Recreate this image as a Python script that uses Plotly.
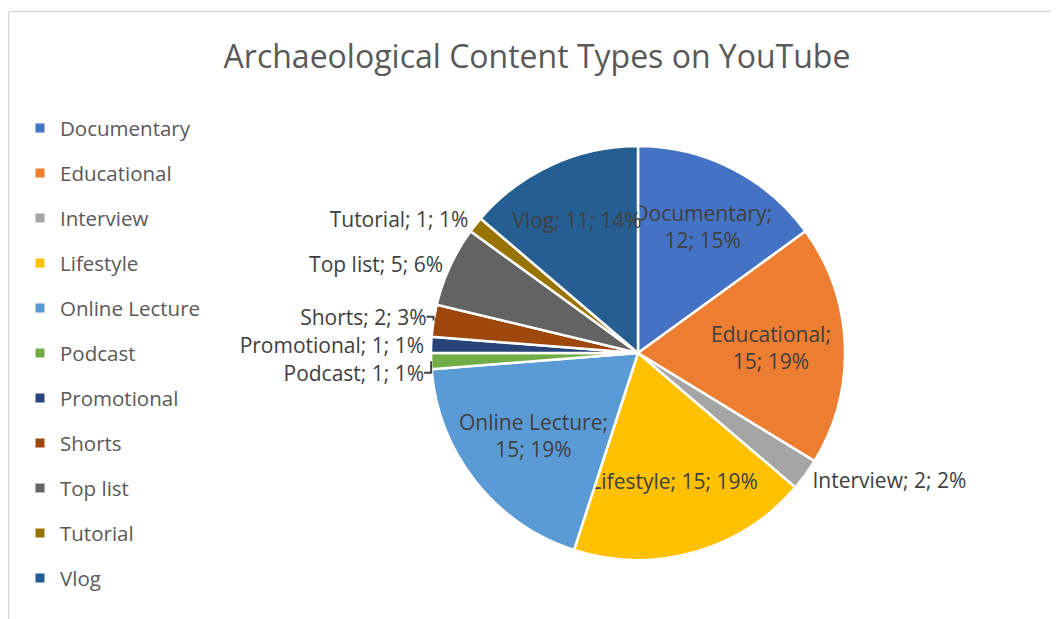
import plotly.graph_objects as go

categories = ["Documentary", "Educational", "Interview", "Lifestyle", "Online Lecture",
              "Podcast", "Promotional", "Shorts", "Top list", "Tutorial", "Vlog"]
values = [12, 15, 2, 15, 15, 1, 1, 2, 5, 1, 11]
pct_labels = ["15%", "19%", "2%", "19%", "19%", "1%", "1%", "3%", "6%", "1%", "14%"]
colors = ["#4472C4", "#ED7D31", "#A5A5A5", "#FFC000", "#5B9BD5", "#70AD47",
          "#264478", "#9E480E", "#636363", "#997300", "#255E91"]
wrap_label = [True, True, False, False, True, False, False, False, False, False, False]
inside = [True, True, False, True, True, False, False, False, False, False, True]

texts = []
for c, v, p, w in zip(categories, values, pct_labels, wrap_label):
    sep = ";<br>" if w else "; "
    texts.append(f"{c}{sep}{v}; {p}")

# page body has an 8px margin; figure coordinates below are page coords minus 8
OFF = 8
W, H = 1059 - OFF, 619 - OFF
cx, cy, r = 638 - OFF, 353 - OFF, 207
lab_font = 21

fig = go.Figure()
fig.add_trace(go.Pie(
    labels=categories,
    values=values,
    text=texts,
    texttemplate="%{text}",
    textinfo="text",
    textposition=["inside" if i else "outside" for i in inside],
    insidetextorientation="horizontal",
    sort=False,
    direction="clockwise",
    rotation=0,
    showlegend=False,
    marker=dict(colors=colors, line=dict(color="white", width=2.5)),
    textfont=dict(family="Open Sans", size=lab_font, color="#404040"),
    insidetextfont=dict(family="Open Sans", size=lab_font, color="#404040"),
    outsidetextfont=dict(family="Open Sans", size=lab_font, color="#404040"),
    domain=dict(x=[(cx - r) / W, (cx + r) / W], y=[(H - cy - r) / H, (H - cy + r) / H]),
    hoverinfo="label+value+percent",
))

# legend entries (one per category)
for c, col in zip(categories, colors):
    fig.add_trace(go.Scatter(
        x=[None], y=[None], mode="markers", name=c, legendgroup=c,
        marker=dict(symbol="square", size=9, color=col),
        showlegend=True, hoverinfo="skip",
    ))

leg_font = 20.5
item_h = leg_font * 1.3 + 3
gap = 45 - item_h
leg_top = (128 - OFF) - 5 - item_h / 2

fig.update_layout(
    width=W, height=H,
    margin=dict(l=0, r=0, t=0, b=0),
    paper_bgcolor="white",
    plot_bgcolor="white",
    uniformtext=dict(minsize=lab_font, mode="show"),
    xaxis=dict(visible=False),
    yaxis=dict(visible=False),
    title=dict(text="Archaeological Content Types on YouTube",
               x=(537 - OFF) / W, y=1 - (57 - OFF) / H, xanchor="center", yanchor="middle",
               xref="container", yref="container",
               font=dict(family="Open Sans", size=32, color="#595959")),
    showlegend=True,
    legend=dict(x=(20 - OFF) / W, y=1 - leg_top / H, xanchor="left", yanchor="top",
                font=dict(family="Open Sans", size=leg_font, color="#595959"),
                traceorder="grouped", tracegroupgap=gap,
                itemclick=False, itemdoubleclick=False),
    shapes=[
        dict(type="line", xref="paper", yref="paper", x0=0.75 / W, x1=1.0,
             y0=1 - (11.5 - OFF) / H, y1=1 - (11.5 - OFF) / H,
             line=dict(color="#D9D9D9", width=1.5)),
        dict(type="line", xref="paper", yref="paper", x0=0.75 / W, x1=0.75 / W,
             y0=0, y1=1 - (11.5 - OFF) / H,
             line=dict(color="#D9D9D9", width=1.5)),
    ],
)

fig.write_html("out.html")
